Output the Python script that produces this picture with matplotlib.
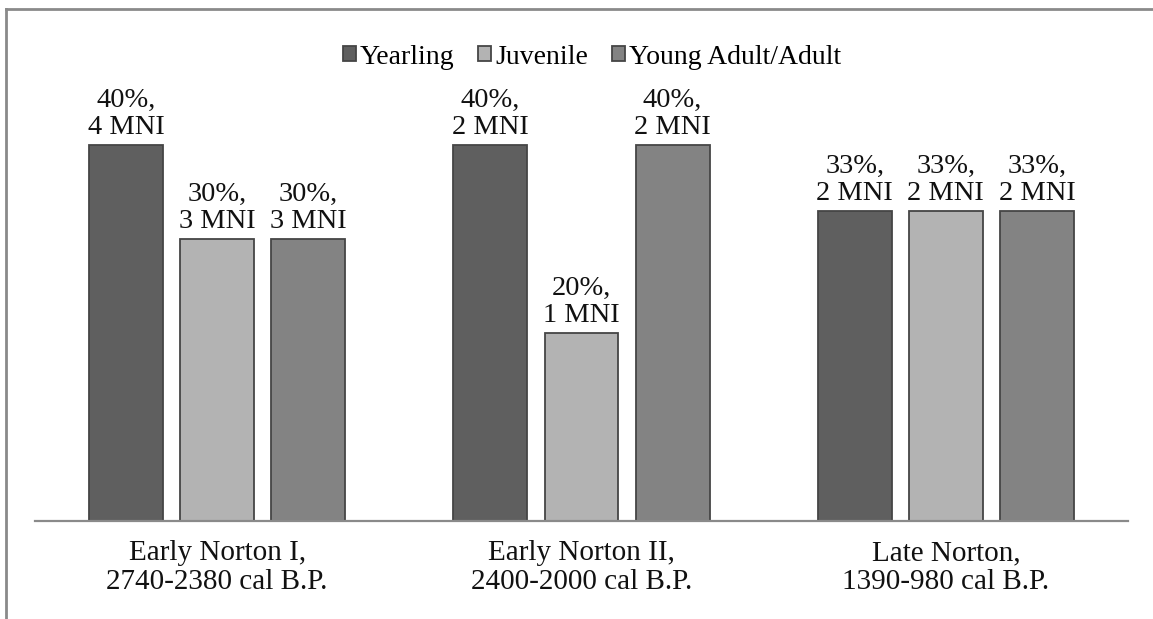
import matplotlib
matplotlib.use("Agg")
import matplotlib.pyplot as plt
import numpy as np
from matplotlib.lines import Line2D

plt.rcParams['font.family'] = ['Liberation Serif', 'DejaVu Serif']

periods = ["Early Norton I,\n2740-2380 cal B.P.",
           "Early Norton II,\n2400-2000 cal B.P.",
           "Late Norton,\n1390-980 cal B.P."]
age_classes = ["Yearling", "Juvenile", "Young Adult/Adult"]
percent = {
    "Yearling": [40, 40, 33],
    "Juvenile": [30, 20, 33],
    "Young Adult/Adult": [30, 40, 33],
}
mni = {
    "Yearling": [4, 2, 2],
    "Juvenile": [3, 1, 2],
    "Young Adult/Adult": [3, 2, 2],
}
colors = {"Yearling": "#5f5f5f", "Juvenile": "#b3b3b3", "Young Adult/Adult": "#838383"}

FS = 20.5
W, H = 1153, 619
fig = plt.figure(figsize=(W / 100, H / 100), dpi=100)

# frame lines around the figure
fig.add_artist(Line2D([5.5 / W, 5.5 / W], [0, 1 - 8.5 / H], transform=fig.transFigure,
                      color="#8a8a8a", lw=2))
fig.add_artist(Line2D([5.5 / W, 1], [1 - 8.5 / H, 1 - 8.5 / H], transform=fig.transFigure,
                      color="#8a8a8a", lw=2))

ymax = 45
ax_left, ax_right = 35, 1128
ax_bottom = 521
scale = 9.4  # px per percent
ax_top = ax_bottom - ymax * scale
ax = fig.add_axes([ax_left / W, 1 - ax_bottom / H, (ax_right - ax_left) / W,
                   (ax_bottom - ax_top) / H])

x = np.arange(len(periods))
width = 0.203
step = 0.25
for i, cls in enumerate(age_classes):
    pos = x + (i - 1) * step
    ax.bar(pos, percent[cls], width, color=colors[cls], edgecolor="#454545",
           linewidth=1.3, label=cls, zorder=2)
    for px, p, m in zip(pos, percent[cls], mni[cls]):
        ax.text(px, p + 0.5, f"{p}%,\n{m} MNI", ha="center", va="bottom",
                fontsize=FS, linespacing=1.1, color="#111111")

ax.set_xlim(-0.5, len(periods) - 0.5)
ax.set_ylim(0, ymax)
ax.set_xticks(x)
ax.set_xticklabels(periods, fontsize=21, linespacing=1.12, color="#111111")
ax.tick_params(axis="x", length=0, pad=14)
ax.set_yticks([])
for s in ["top", "right", "left"]:
    ax.spines[s].set_visible(False)
ax.spines["bottom"].set_color("#8a8a8a")
ax.spines["bottom"].set_linewidth(1.6)
ax.spines["bottom"].set_zorder(3)

leg = fig.legend(loc="center", bbox_to_anchor=(592 / W, 1 - 57 / H), ncol=3,
                 frameon=False, fontsize=20, handlelength=0.47, handleheight=0.47,
                 handletextpad=0.15, columnspacing=0.85)
for h in leg.legend_handles:
    h.set_edgecolor("#454545")

fig.savefig("out.png", dpi=100, facecolor="white")
